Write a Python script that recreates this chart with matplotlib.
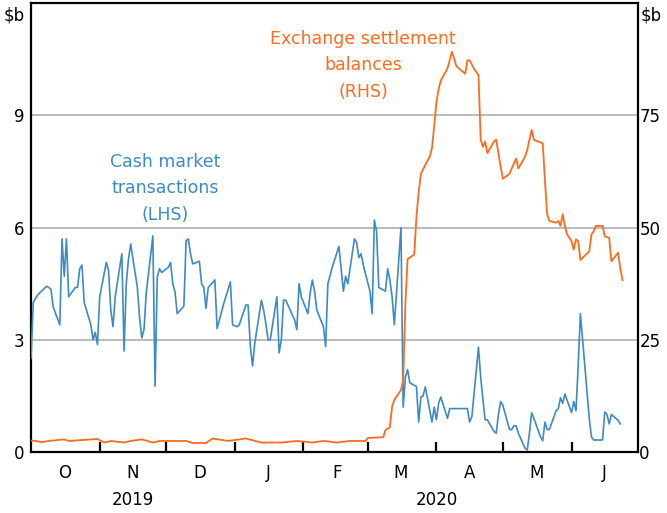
import numpy as np
import pandas as pd
import matplotlib
matplotlib.use("Agg")
import matplotlib.pyplot as plt
import matplotlib.dates as mdates
import matplotlib.transforms as mtransforms

plt.rcParams['font.family'] = ['DejaVu Sans']

# --- datos ---
# dias habiles (sin feriados) para las transacciones de cash market, LHS ($b)
feriados = ['2019-12-25', '2019-12-26', '2020-01-01', '2020-01-27',
            '2020-04-10', '2020-04-13', '2020-06-08']
cash_vals = [
    4.2, 2.5, 4.0, 4.1, 4.2,        # sem 30 sep
    4.37, 4.43, 4.4, 4.35, 3.88,    # 7 oct
    3.4, 5.7, 4.7, 5.7, 4.15,       # 14 oct
    4.4, 4.4, 4.9, 5.0, 4.0,        # 21 oct
    3.4, 3.0, 3.2, 2.87, 4.15,      # 28 oct
    5.07, 4.85, 3.8, 3.35, 4.15,    # 4 nov
    5.3, 2.7, 4.5, 5.16, 5.56,      # 11 nov
    4.4, 3.6, 3.05, 3.27, 4.24,     # 18 nov
    5.78, 1.76, 4.68, 4.9, 4.8,     # 25 nov
    4.94, 5.07, 4.5, 4.28, 3.7,     # 2 dic
    3.9, 5.65, 5.7, 5.3, 5.03,      # 9 dic
    5.1, 4.5, 4.4, 3.84, 4.4,       # 16 dic
    4.6, 3.3, 3.97,                 # 23 dic
    4.55, 3.4, 3.35, 3.4,           # 30 dic
    3.93, 3.93, 2.82, 2.3, 2.9,     # 6 ene
    4.06, 3.8, 3.44, 3.0, 3.0,      # 13 ene
    4.15, 2.65, 3.0, 4.06, 4.06,    # 20 ene
    3.53, 3.27, 4.5, 4.15,          # 28 ene
    3.7, 4.24, 4.6, 4.3, 3.8,       # 3 feb
    3.35, 2.82, 4.5, 4.72, 4.94,    # 10 feb
    5.5, 4.9, 4.3, 4.7, 4.5,        # 17 feb
    5.7, 5.6, 5.2, 5.3, 5.0,        # 24 feb
    4.3, 3.7, 6.2, 5.9, 4.4,        # 2 mar
    4.3, 4.9, 4.6, 4.15, 3.4,       # 9 mar
    6.0, 1.2, 2.0, 2.2, 1.85,       # 16 mar
    1.75, 0.8, 1.47, 1.5, 1.74,     # 23 mar
    0.8, 1.2, 0.86, 1.3, 1.47,      # 30 mar
    0.9, 1.16, 1.16, 1.16,          # 6 abr
    1.16, 1.16, 0.8, 0.94,          # 14 abr
    2.8, 2.0, 1.4, 0.86, 0.86,      # 20 abr
    0.55, 0.5, 1.0, 1.35, 1.25,     # 27 abr
    0.6, 0.6, 0.7, 0.7, 0.5,        # 4 may
    0.1, 0.05, 0.5, 1.05, 0.9,      # 11 may
    0.4, 0.3, 0.8, 0.6, 0.6,        # 18 may
    1.1, 1.15, 1.45, 1.3, 1.55,     # 25 may
    1.05, 1.35, 1.1, 2.3, 3.7,      # 1 jun
    0.9, 0.4, 0.32, 0.32,           # 9 jun
    0.32, 1.07, 1.0, 0.75, 1.0,     # 15 jun
    0.85, 0.75,                     # 22 jun
]

# exchange settlement balances, RHS ($b)
esb_dates = [
    '2019-09-30', '2019-10-03', '2019-10-06', '2019-10-09', '2019-10-16',
    '2019-10-18', '2019-10-31', '2019-11-03', '2019-11-06', '2019-11-12',
    '2019-11-15', '2019-11-20', '2019-11-25', '2019-11-28', '2019-12-10',
    '2019-12-13', '2019-12-19', '2019-12-22', '2019-12-29', '2020-01-06',
    '2020-01-13', '2020-01-22', '2020-01-29', '2020-02-05', '2020-02-10',
    '2020-02-16', '2020-02-22', '2020-02-29', '2020-03-01', '2020-03-08',
    '2020-03-09', '2020-03-11', '2020-03-12', '2020-03-13', '2020-03-16',
    '2020-03-17', '2020-03-18', '2020-03-19', '2020-03-22', '2020-03-23',
    '2020-03-24', '2020-03-25', '2020-03-27', '2020-03-29', '2020-03-30',
    '2020-03-31', '2020-04-01', '2020-04-02', '2020-04-03', '2020-04-06',
    '2020-04-07', '2020-04-08', '2020-04-09', '2020-04-10', '2020-04-14',
    '2020-04-15', '2020-04-16', '2020-04-18', '2020-04-20', '2020-04-21',
    '2020-04-22', '2020-04-23', '2020-04-24', '2020-04-27', '2020-04-28',
    '2020-04-29', '2020-04-30', '2020-05-01', '2020-05-04', '2020-05-05',
    '2020-05-06', '2020-05-07', '2020-05-08', '2020-05-11', '2020-05-12',
    '2020-05-13', '2020-05-14', '2020-05-15', '2020-05-19', '2020-05-20',
    '2020-05-21', '2020-05-22', '2020-05-25', '2020-05-26', '2020-05-27',
    '2020-05-28', '2020-05-29', '2020-05-30', '2020-06-01', '2020-06-02',
    '2020-06-03', '2020-06-04', '2020-06-05', '2020-06-09', '2020-06-10',
    '2020-06-11', '2020-06-12', '2020-06-15', '2020-06-16', '2020-06-18',
    '2020-06-19', '2020-06-22', '2020-06-23', '2020-06-24',
]
esb_vals = [
    2.6, 2.45, 2.2, 2.45, 2.8,
    2.45, 2.9, 2.1, 2.45, 2.1,
    2.45, 2.8, 2.1, 2.45, 2.45,
    2.0, 2.0, 3.0, 2.45, 3.0,
    2.1, 2.1, 2.45, 2.1, 2.45,
    2.1, 2.45, 2.45, 3.1, 3.3,
    4.9, 5.5, 10.1, 11.6, 13.8,
    16.0, 33.0, 43.0, 44.0, 52.5,
    57.9, 62.0, 64.0, 65.8, 67.7,
    72.6, 77.9, 80.9, 82.8, 85.5,
    87.3, 89.2, 87.7, 86.0, 84.3,
    87.3, 87.3, 85.4, 84.0, 69.6,
    68.0, 69.2, 66.6, 69.2, 69.6,
    66.6, 63.6, 60.9, 62.0, 63.2,
    64.3, 65.4, 63.2, 65.8, 67.3,
    69.6, 71.8, 69.6, 68.8, 60.5,
    53.0, 51.5, 51.1, 51.5, 50.4,
    53.0, 50.4, 48.5, 47.0, 45.1,
    47.4, 47.0, 42.8, 44.7, 48.5,
    49.2, 50.4, 50.4, 48.1, 47.7,
    42.5, 44.4, 41.0, 38.3,
]

month_labels = ['O', 'N', 'D', 'J', 'F', 'M', 'A', 'M', 'J']
year_labels = ['2019', '2020']
lhs_ticks = [0, 3, 6, 9]
rhs_ticks = [0, 25, 50, 75]

AZUL = '#3d8ac7'
NARANJA = '#ff6a1c'

cash_days = pd.bdate_range('2019-09-30', '2020-06-23')
cash_days = cash_days[~cash_days.isin(pd.to_datetime(feriados))]
esb_days = pd.to_datetime(esb_dates)

# --- grafica ---
fig = plt.figure(figsize=(6.67, 5.13), dpi=100)
ax = fig.add_axes([0.0465, 0.119, 0.91, 0.8745])
ax2 = ax.twinx()

x0, x1 = pd.Timestamp('2019-10-01'), pd.Timestamp('2020-07-01')
ax.set_xlim(x0, x1)
ax.set_ylim(0, 12)
ax2.set_ylim(0, 100)

for v in lhs_ticks[1:]:
    ax.axhline(v, color='#a8a8a8', lw=1.1, zorder=1)

ax.plot(cash_days, cash_vals, color=AZUL, lw=1.2, zorder=3)
ax2.plot(esb_days, esb_vals, color=NARANJA, lw=1.3, zorder=3)

# ejes
ax.set_yticks(lhs_ticks)
ax.set_yticklabels([str(t) for t in lhs_ticks])
ax2.set_yticks(rhs_ticks)
ax2.set_yticklabels([str(t) for t in rhs_ticks])
ax.tick_params(axis='y', length=0, labelsize=12, pad=5)
ax2.tick_params(axis='y', length=0, labelsize=12, pad=1)

month_starts = pd.date_range('2019-11-01', '2020-06-01', freq='MS')
mid_months = pd.date_range('2019-10-01', '2020-06-01', freq='MS') + pd.Timedelta(days=15)
ax.set_xticks(month_starts)
ax.set_xticklabels([''] * len(month_starts))
ax.set_xticks(mid_months, minor=True)
ax.set_xticklabels(month_labels, minor=True)
ax.tick_params(axis='x', which='major', direction='in', length=7, width=1.6, color='black')
ax.tick_params(axis='x', which='minor', length=0, labelsize=12, pad=9)

trans = mtransforms.blended_transform_factory(ax.transData, ax.transAxes)
year_pos = [pd.Timestamp('2019-11-16'), pd.Timestamp('2020-04-01')]
for yl, xp in zip(year_labels, year_pos):
    ax.text(xp, -0.108, yl, transform=trans, ha='center', va='center', fontsize=12)

for sp in ax.spines.values():
    sp.set_linewidth(1.6)
    sp.set_color('black')
for sp in ax2.spines.values():
    sp.set_visible(False)

ax.text(-0.028, 0.973, '$b', transform=ax.transAxes, ha='center', va='center', fontsize=12)
ax.text(1.022, 0.973, '$b', transform=ax.transAxes, ha='center', va='center', fontsize=12)

ax.text(0.221, 0.588, 'Cash market\ntransactions\n(LHS)', transform=ax.transAxes,
        ha='center', va='center', color=AZUL, fontsize=12.5, linespacing=1.6)
ax2.text(0.547, 0.862, 'Exchange settlement\nbalances\n(RHS)', transform=ax.transAxes,
         ha='center', va='center', color=NARANJA, fontsize=12.5, linespacing=1.6)

fig.savefig('out.png', dpi=100)
